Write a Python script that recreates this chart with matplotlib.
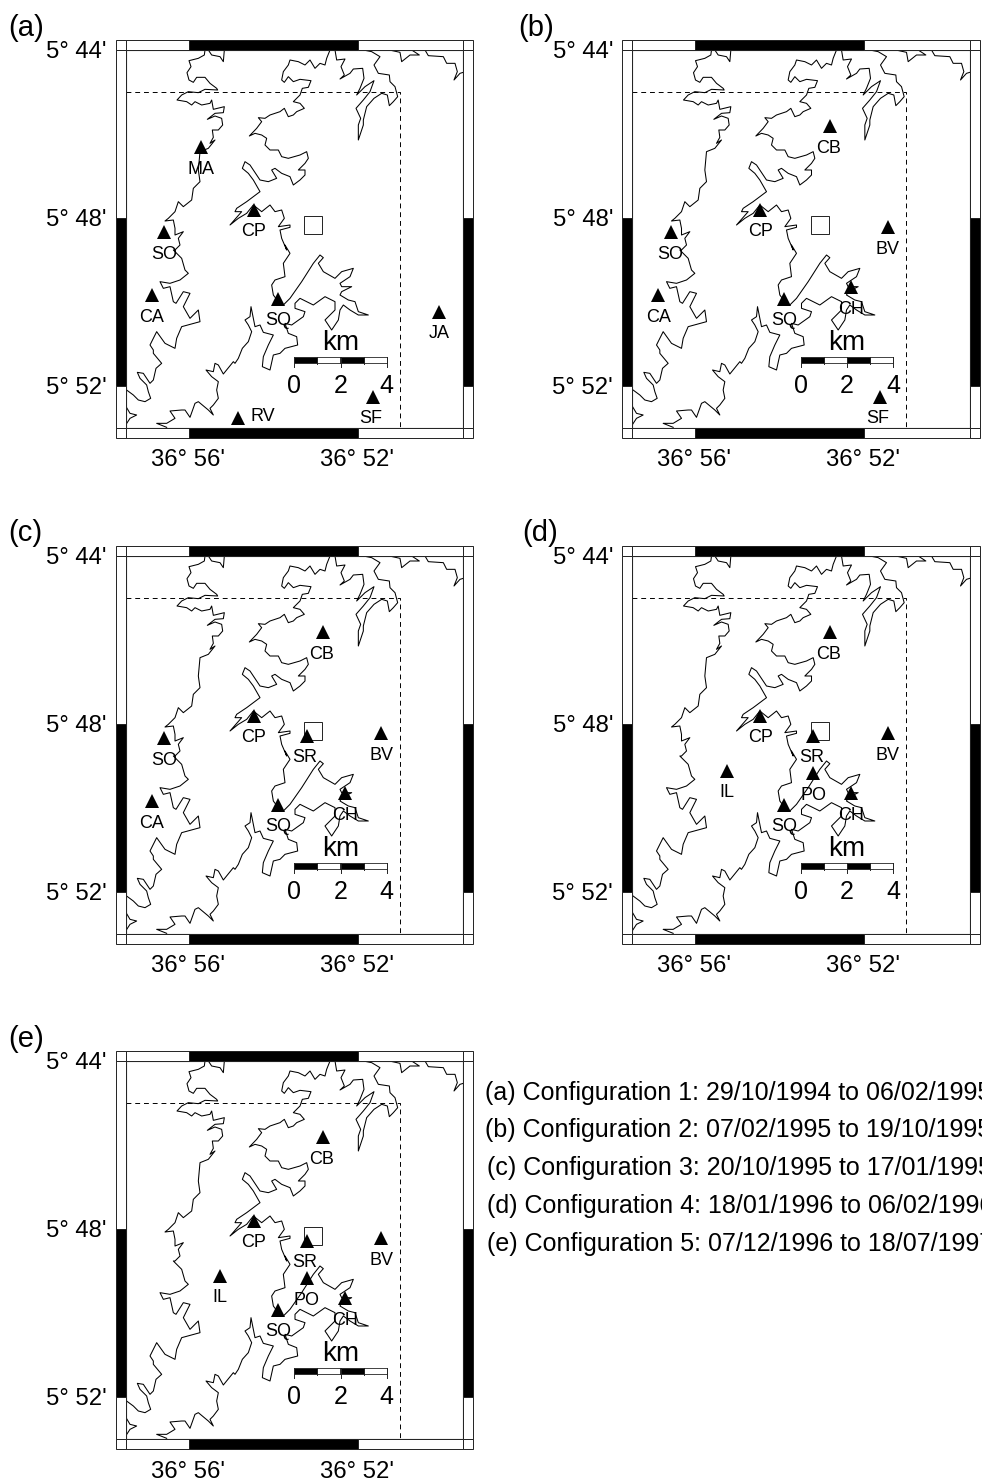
import numpy as np
import matplotlib
matplotlib.use("Agg")
import matplotlib.pyplot as plt
from matplotlib.patches import Rectangle

plt.rcParams['font.family'] = ['Liberation Sans', 'DejaVu Sans']

W, H = 982, 1482
# map extent, arc-minutes past 36 deg (lon) and 5 deg (lat)
LON_W, LON_E = 57.5, 49.5
LAT_N, LAT_S = 44.0, 53.0
# inner frame of panel (a), in image pixels
PX0, PX1, PY0, PY1 = 125.7, 463.0, 49.7, 428.0
PANEL_OFFSETS = {'a': (0, 0), 'b': (506.5, 0), 'c': (0, 506), 'd': (506.5, 506), 'e': (0, 1011)}
PANEL_LABEL_POS = {'a': (8, 28), 'b': (518, 28), 'c': (8, 533), 'd': (522, 533), 'e': (8, 1039)}

def lon_of(px):
    return LON_W - (np.asarray(px, float) - PX0) * (LON_W - LON_E) / (PX1 - PX0)
def lat_of(py):
    return LAT_N + (np.asarray(py, float) - PY0) * (LAT_S - LAT_N) / (PY1 - PY0)

# station coordinates: name -> (lon minutes, lat minutes)
ST_NAMES = ['MA','SO','CP','CA','SQ','JA','RV','SF','CB','BV','CH','SR','IL','PO']
ST_LON = [55.71,56.59,54.46,56.88,53.89,50.07,54.84,51.63,52.82,51.44,52.30,53.20,55.26,53.20]
ST_LAT = [46.32,48.34,47.81,49.84,49.93,50.24,52.76,52.26,45.82,48.22,49.65,48.29,49.12,49.17]
STATIONS = dict(zip(ST_NAMES, zip(ST_LON, ST_LAT)))
CONFIG_A = ['MA','SO','CP','CA','SQ','JA','RV','SF']
CONFIG_B = ['CB','SO','CP','BV','CA','SQ','CH','SF']
CONFIG_C = ['CB','SO','CP','SR','BV','CA','SQ','CH']
CONFIG_D = ['CB','CP','SR','BV','IL','PO','SQ','CH']
CONFIG_E = ['CB','CP','SR','BV','IL','PO','SQ','CH']
CONFIGS = {'a': CONFIG_A, 'b': CONFIG_B, 'c': CONFIG_C, 'd': CONFIG_D, 'e': CONFIG_E}
SITE_LON, SITE_LAT = 53.05, 48.16

LEGEND_LINES = ["(a) Configuration 1: 29/10/1994 to 06/02/1995",
                "(b) Configuration 2: 07/02/1995 to 19/10/1995",
                "(c) Configuration 3: 20/10/1995 to 17/01/1995",
                "(d) Configuration 4: 18/01/1996 to 06/02/1996",
                "(e) Configuration 5: 07/12/1996 to 18/07/1997"]
LEGEND_X = [485, 485, 487, 487, 487]
LEGEND_Y = [1093, 1130, 1168, 1206, 1244]

C1 = (100, 30); C3 = (120, 330); C4 = (235, 245); C5 = (300, 45)
CA = (165, 50); CB = (225, 50); CC = (225, 150); CD = (150, 150); CE = (140, 250)
COAST_W1 = [(120,0),(118,15),(100,25),(72,32),(78,50),(66,68),(72,90),(85,97),(95,82),(120,82),(135,100),(155,115),(158,120),(120,118),(100,128),(70,125),(50,135),(36,150),(65,155),(80,165),(90,155),(110,165),(135,160),(140,150),(145,178),(178,170),(175,188),(150,190),(127,208),(150,198),(170,205),(173,225),(160,240),(142,240),(145,262),(135,280),(150,270),(130,295)]
COAST_W2 = [(150,5),(145,60),(150,95),(130,115),(125,150),(100,170),(85,155),(75,185),(55,205),(45,213),(70,210),(75,235),(75,255),(100,245),(85,265),(90,285),(75,300)]
COAST_W3 = [(100,0),(125,25),(135,60),(145,70),(120,90),(90,100),(60,95),(70,115),(90,110),(100,155),(108,160),(130,125),(150,130),(130,170),(150,205),(175,180),(180,215),(125,230),(110,265),(105,295),(75,280),(50,245),(30,285),(40,300)]
COAST_W4 = [(100,70),(125,100),(108,115),(100,150),(90,160),(70,130),(52,127),(60,145),(80,165),(85,185),(92,205),(75,215),(55,210),(40,195),(17,178)]
COAST_W5 = [(17,228),(30,250),(50,255),(30,265),(17,285)]
COAST_TOPL = [(130,0),(140,15),(165,20),(175,35),(178,0)]
COAST_M0 = [(690,60),(680,85)]
COAST_M1 = [(300,45),(285,40),(270,55),(255,30),(240,45),(220,35),(195,30),(190,45),(175,65),(170,90),(178,97),(190,80),(205,95),(225,88),(258,92),(250,112),(232,115),(225,135),(205,155),(225,160),(238,175),(215,185),(205,195),(190,200),(178,175),(165,185),(135,195),(120,205),(100,203),(110,215),(95,235),(73,258),(90,250),(110,255),(125,265),(120,285),(135,300),(160,300),(170,320),(190,325),(225,315),(245,305),(250,325)]
COAST_M1B = [(240,40),(220,60),(240,60),(240,75),(225,90),(205,105),(195,80),(170,70),(150,55),(140,60),(155,85),(130,95),(105,90),(85,60),(75,45),(60,35),(52,55),(70,70),(85,90),(105,125),(85,140),(65,155),(35,175),(30,185),(50,185),(15,225),(40,205),(65,190),(85,165),(110,185),(135,165),(150,185),(170,180),(178,205),(160,230),(195,225),(195,232),(165,240),(170,265),(185,300)]
COAST_M2 = [(150,0),(165,25),(145,55),(150,95),(120,105),(110,120),(115,150),(130,170),(145,180),(165,160),(200,110),(235,55),(255,30),(265,38),(250,55),(265,80),(300,100),(320,80),(355,70),(345,95),(315,115),(320,125),(350,125),(320,140),(315,150),(340,165),(360,170),(370,200),(400,210),(370,210),(345,195),(325,180),(315,195),(310,225),(290,255),(270,225),(300,195),(300,170),(270,155),(235,180),(195,160),(180,175),(180,190),(210,200),(205,215),(170,240),(150,235),(160,265),(185,275),(188,300),(150,310),(135,325),(115,330),(105,375),(82,365),(85,335),(100,300),(115,270),(85,262),(75,240),(60,245),(48,185),(45,215),(30,225),(40,240),(50,260),(40,290),(22,310),(10,340),(0,355)]
COAST_M3 = [(340,95),(310,132),(295,105),(285,100),(280,125),(258,120),(275,140),(295,155),(290,180),(295,205),(280,225),(270,235),(280,255),(265,240),(235,215),(225,220),(210,262),(195,240),(185,240),(150,243),(165,265),(140,280),(110,280),(140,292)]
COAST_E2 = [(105,15),(110,45),(135,42),(123,65),(133,90),(120,102),(150,85),(160,72),(188,70),(192,100),(180,130),(170,150),(195,125),(222,107),(210,140),(190,165),(168,190),(182,220),(175,240),(175,285),(190,240),(190,225),(200,185),(222,160),(245,145),(262,150),(268,182),(280,170),(293,155),(285,125),(270,110),(268,90),(235,85),(222,60),(240,35),(215,20),(190,15)]
COAST_E3 = [(268,15),(300,22),(305,50),(330,30),(358,30),(335,15)]
COAST_E4 = [(375,15),(385,32),(430,35),(440,55),(465,55),(472,80),(462,105),(480,85),(490,82)]
COAST_CHAINS = [[(CA, COAST_W1), (CD, COAST_W2), (CE, COAST_W3), (C3, COAST_W4)],
                [(C3, COAST_W5)],
                [(CA, COAST_TOPL)],
                [(C1, COAST_M0), (CB, COAST_M1), (CC, COAST_M1B), (C4, COAST_M2), (C3, COAST_M3)],
                [(C5, COAST_E2)], [(C5, COAST_E3)], [(C5, COAST_E4)]]

fig = plt.figure(figsize=(W / 100, H / 100), dpi=100, facecolor='white')
PT = 0.72  # points per pixel at dpi 100
FRAME = '#222222'
BAR_DX = 10 * (LON_W - LON_E) / (PX1 - PX0)
BAR_DY = 10 * (LAT_S - LAT_N) / (PY1 - PY0)

def draw_frame(ax):
    def rect(x0, y0, x1, y1, fc):
        ax.add_patch(Rectangle((x0, y0), x1 - x0, y1 - y0, fc=fc, ec=FRAME, lw=0.7, clip_on=False, zorder=5))
    for y0, y1 in [(LAT_N - BAR_DY, LAT_N), (LAT_S, LAT_S + BAR_DY)]:
        rect(LON_W + BAR_DX, y0, LON_W, y1, 'white')
        rect(LON_W, y0, 56, y1, 'white')
        rect(56, y0, 52, y1, 'black')
        rect(52, y0, LON_E, y1, 'white')
        rect(LON_E, y0, LON_E - BAR_DX, y1, 'white')
    for x0, x1 in [(LON_W + BAR_DX, LON_W), (LON_E, LON_E - BAR_DX)]:
        rect(x0, 44, x1, 48, 'white')
        rect(x0, 48, x1, 52, 'black')
        rect(x0, 52, x1, 53, 'white')

def draw_scale(ax):
    km_edges_px = [294.3, 317.4, 340.5, 363.6, 386.7]
    y0, y1, y2 = lat_of(356.7), lat_of(362.7), lat_of(367)
    xs = lon_of(km_edges_px)
    for i in range(4):
        ax.add_patch(Rectangle((xs[i + 1], y0), xs[i] - xs[i + 1], y1 - y0,
                               fc='black' if i % 2 == 0 else 'white', ec=FRAME, lw=0.6, zorder=4))
    for i, x in enumerate(xs):
        ax.plot([x, x], [y0, y2 if i % 2 == 0 else y1 + 0.03], color=FRAME, lw=0.7, zorder=4)
    for x, s in zip(xs[::2], ['0', '2', '4']):
        ax.text(x, lat_of(386.5), s, ha='center', va='center', fontsize=18, zorder=6)
    ax.text(xs[2], lat_of(343), 'km', ha='center', va='center', fontsize=20, zorder=6)

for key, (dx, dy) in PANEL_OFFSETS.items():
    ax = fig.add_axes([(PX0 + dx) / W, 1 - (PY1 + dy) / H, (PX1 - PX0) / W, (PY1 - PY0) / H])
    ax.set_xlim(LON_W, LON_E)
    ax.set_ylim(LAT_S, LAT_N)
    ax.set_xticks([]); ax.set_yticks([])
    for s in ax.spines.values():
        s.set_linewidth(0.8); s.set_color(FRAME)
    draw_frame(ax)
    for chain in COAST_CHAINS:
        xs, ys = [], []
        for (ox, oy), pts in chain:
            p = np.array(pts, float)
            xs.extend(ox + p[:, 0] / 3); ys.extend(oy + p[:, 1] / 3)
        ax.plot(lon_of(xs), lat_of(ys), color='black', lw=0.75, zorder=2, solid_joinstyle='round')
    ax.plot([LON_W, 51, 51], [45, 45, LAT_S], color='black', lw=0.7, dashes=(5, 4), zorder=2)
    ax.plot([SITE_LON], [SITE_LAT], marker='s', ms=13, mfc='white', mec=FRAME, mew=0.7, ls='none', zorder=3)
    for name in CONFIGS[key]:
        lo, la = STATIONS[name]
        ax.plot([lo], [la], marker='^', ms=10.5, color='black', mew=0, ls='none', zorder=4)
        if name == 'RV':
            off = (25 * PT, 1 * PT)
        elif name == 'SR':
            off = (-2 * PT, -21 * PT)
        else:
            off = (-2 * PT if name == 'SF' else -1 * PT if name == 'CB' else 0, -22 * PT)
        ax.annotate(name, (lo, la), xytext=off, textcoords='offset points', ha='center', va='center',
                    fontsize=13, zorder=6)
    draw_scale(ax)
    for la, s in [(44, "5° 44'"), (48, "5° 48'"), (52, "5° 52'")]:
        ax.annotate(s, (LON_W, la), xytext=(-19 * PT, -2 * PT), textcoords='offset points',
                    ha='right', va='center', fontsize=17.2, annotation_clip=False)
    for lo, s in [(56, "36° 56'"), (52, "36° 52'")]:
        yoff = -33 * PT if key == 'e' else -32 * PT
        ax.annotate(s, (lo, LAT_S), xytext=(-1 * PT, yoff), textcoords='offset points',
                    ha='center', va='center', fontsize=17.2, annotation_clip=False)
    lx, ly = PANEL_LABEL_POS[key]
    fig.text(lx / W, 1 - ly / H, f'({key})', ha='left', va='center', fontsize=21)

for s, x, y in zip(LEGEND_LINES, LEGEND_X, LEGEND_Y):
    fig.text(x / W, 1 - y / H, s, ha='left', va='center', fontsize=18)

fig.savefig('out.png', dpi=100)
